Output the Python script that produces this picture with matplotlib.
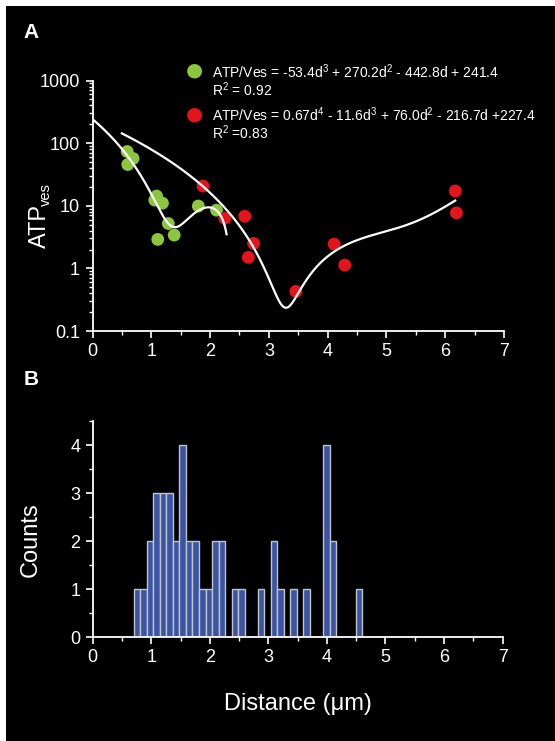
import matplotlib.pyplot as plt
import numpy as np
from matplotlib.patches import Rectangle
from matplotlib.ticker import FixedLocator, MultipleLocator, LogLocator, NullFormatter

plt.rcParams['font.family'] = ['Liberation Sans', 'DejaVu Sans']

# --- panel A data ---
green_x = [0.59, 0.69, 0.60, 1.09, 1.06, 1.19, 1.29, 1.11, 1.39, 1.80, 2.11]
green_y = [73.5, 56.8, 45.5, 14.3, 12.3, 11.0, 5.2, 2.9, 3.4, 9.9, 8.5]

red_x = [1.88, 2.25, 2.59, 2.74, 2.65, 3.46, 4.11, 4.29, 6.17, 6.19]
red_y = [20.6, 6.3, 6.8, 2.5, 1.5, 0.43, 2.44, 1.13, 17.2, 7.7]

# green fit: ATP/Ves = -53.4d^3 + 270.2d^2 - 442.8d + 241.4
green_coef = [-53.4, 270.2, -442.8, 241.4]
green_d_max = 2.28

# red fit line (x, log10 y); the printed coefficients are
# rounded too coarsely to reproduce the dip, so the quartic is refit to the trace
red_fit_x = [0.50, 1.00, 1.49, 1.88, 2.22, 2.51, 2.79, 3.02, 3.19, 3.245, 3.30,
             3.36, 3.415, 3.47, 3.60, 3.76, 4.04, 4.38, 4.78, 5.34, 5.91, 6.17]
red_fit_lv = [2.14, 1.86, 1.60, 1.38, 1.04, 0.665, 0.24, -0.24, -0.534, -0.597, -0.62,
              -0.597, -0.534, -0.454, -0.25, -0.027, 0.24, 0.399, 0.532, 0.692, 0.931, 1.091]

# --- panel B data: histogram counts ---
hist_start = 0.70
hist_width = 0.1115
hist_counts = [1, 1, 2, 3, 3, 3, 2, 4, 2, 2, 1, 1, 2, 2, 0, 1, 1, 0, 0, 1, 0, 2,
               1, 0, 1, 0, 1, 0, 0, 4, 2, 0, 0, 0, 1]

GREEN = '#8cc63e'
RED = '#e3141c'

W, H = 555, 741
fig = plt.figure(figsize=(W / 100, H / 100), dpi=100)
fig.patch.set_facecolor('white')
fig.add_artist(Rectangle((6 / W, 0), 1 - 6 / W, 1 - 6 / H, transform=fig.transFigure,
                         facecolor='black', edgecolor='none', zorder=-10))


def px_axes(x0, y0, x1, y1):
    return fig.add_axes([x0 / W, 1 - y1 / H, (x1 - x0) / W, (y1 - y0) / H])


def ftext(x, y, s, **kw):
    kw.setdefault('color', 'white')
    return fig.text(x / W, 1 - y / H, s, **kw)


def style(ax):
    ax.set_facecolor('none')
    for s in ['top', 'right']:
        ax.spines[s].set_visible(False)
    for s in ['left', 'bottom']:
        ax.spines[s].set_color('white')
        ax.spines[s].set_linewidth(1.3)
    ax.tick_params(which='major', colors='white', length=5, width=1.2, labelsize=13, pad=4)
    ax.tick_params(which='minor', colors='white', length=3, width=1.0)


# ---------------- panel A ----------------
axA = px_axes(92.5, 80.5, 504, 331)
style(axA)
axA.set_yscale('log')
axA.set_xlim(0, 7)
axA.set_ylim(0.1, 1000)
axA.xaxis.set_major_locator(MultipleLocator(1))
axA.xaxis.set_minor_locator(MultipleLocator(0.5))
axA.yaxis.set_major_locator(FixedLocator([0.1, 1, 10, 100, 1000]))
axA.yaxis.set_minor_locator(LogLocator(base=10, subs=np.arange(2, 10)))
axA.yaxis.set_minor_formatter(NullFormatter())
axA.set_yticklabels(['0.1', '1', '10', '100', '1000'])

d = np.linspace(0, green_d_max, 200)
axA.plot(d, np.polyval(green_coef, d), color='white', lw=1.6, zorder=3)

rx = np.array(red_fit_x)
ry = np.power(10, red_fit_lv)
red_coef = np.polyfit(rx, ry, 4, w=1 / ry)
dr = np.linspace(rx[0], rx[-1], 400)
axA.plot(dr, np.clip(np.polyval(red_coef, dr), 0.12, None), color='white', lw=1.6, zorder=3)

axA.scatter(green_x, green_y, s=85, color=GREEN, edgecolors='none', zorder=2)
axA.scatter(red_x, red_y, s=85, color=RED, edgecolors='none', zorder=2)

# y label: ATP with small "ves" subscript
ftext(40, 226, 'ATP', fontsize=17, rotation=90, ha='center', va='center')
ftext(46, 195, 'ves', fontsize=10.5, rotation=90, ha='center', va='center')

# legend drawn by hand (marker beside first line)
fs = 10
ftext(194, 70, '\u25cf', color=GREEN, fontsize=14, ha='center', va='center', family='DejaVu Sans')
ftext(212, 72, 'ATP/Ves = -53.4d$^\\mathregular{3}$ + 270.2d$^\\mathregular{2}$'
      ' - 442.8d + 241.4', fontsize=fs, va='center')
ftext(212, 90, 'R$^\\mathregular{2}$ = 0.92', fontsize=fs, va='center')
ftext(194, 114, '\u25cf', color=RED, fontsize=14, ha='center', va='center', family='DejaVu Sans')
ftext(212, 115, 'ATP/Ves = 0.67d$^\\mathregular{4}$ - 11.6d$^\\mathregular{3}$ + '
      '76.0d$^\\mathregular{2}$ - 216.7d +227.4', fontsize=fs, va='center')
ftext(212, 133, 'R$^\\mathregular{2}$ =0.83', fontsize=fs, va='center')

ftext(31, 32, 'A', fontsize=15, fontweight='bold', ha='center', va='center')

# ---------------- panel B ----------------
axB = px_axes(92.7, 421, 502.6, 637)
style(axB)
axB.set_xlim(0, 7)
axB.set_ylim(0, 4.5)
axB.xaxis.set_major_locator(MultipleLocator(1))
axB.xaxis.set_minor_locator(MultipleLocator(0.5))
axB.yaxis.set_major_locator(MultipleLocator(1))
axB.yaxis.set_minor_locator(MultipleLocator(0.5))

edges = hist_start + hist_width * np.arange(len(hist_counts))
axB.bar(edges, hist_counts, width=hist_width, align='edge', color='#3a54a6',
        edgecolor='#c4c4c4', linewidth=1.0, zorder=1)

axB.set_ylabel('Counts', color='white', fontsize=17)
axB.yaxis.set_label_coords(-0.124, 0.45)
axB.set_xlabel('Distance (\u03bcm)', color='white', fontsize=17, labelpad=19)

ftext(31, 380, 'B', fontsize=15, fontweight='bold', ha='center', va='center')

fig.savefig('out.png', dpi=100, facecolor=fig.get_facecolor())
